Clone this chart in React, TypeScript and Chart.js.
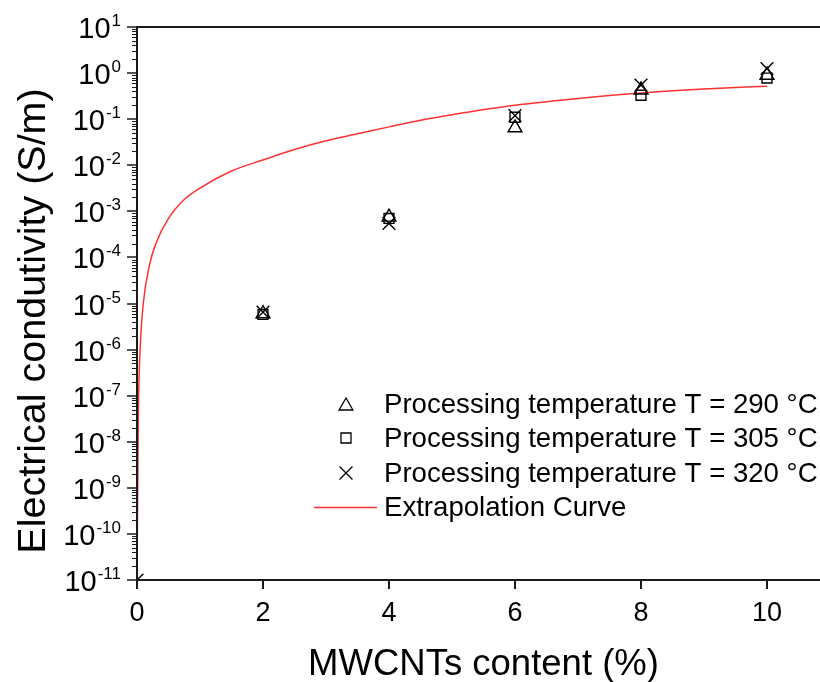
import React, { useEffect, useRef } from 'react';
import { Chart, registerables } from 'chart.js';

Chart.register(...registerables);

// ---- data ----
const contentPct = [0, 2, 4, 6, 8, 10];
const sigma290: (number | null)[] = [null, 6.0e-6, 7.5e-4, 0.065, 0.43, 0.9];
const sigma305: (number | null)[] = [null, 5.8e-6, 7.0e-4, 0.11, 0.33, 0.78];
const sigma320: (number | null)[] = [1e-11, 6.5e-6, 5.5e-4, 0.12, 0.55, 1.25];

const curveX = [0, 0.02, 0.05, 0.1, 0.2, 0.3, 0.5, 0.75, 1, 1.5, 2, 2.5, 3, 3.5, 4, 4.5, 5, 6, 7, 8, 9, 10];
const curveY = [1e-11, 3e-8, 1e-6, 1e-5, 7e-5, 2e-4, 7e-4, 1.8e-3, 3.2e-3, 7.5e-3, 0.013, 0.022, 0.034, 0.048, 0.068, 0.095, 0.125, 0.2, 0.28, 0.37, 0.45, 0.52];

const xTickValues = [0, 2, 4, 6, 8, 10];
const yTickExponents = [-11, -10, -9, -8, -7, -6, -5, -4, -3, -2, -1, 0, 1];

const legendLabels = [
  'Processing temperature T = 290 °C',
  'Processing temperature T = 305 °C',
  'Processing temperature T = 320 °C',
  'Extrapolation Curve',
];
const xTitle = 'MWCNTs content (%)';
const yTitle = 'Electrical condutivity (S/m)';

const FONT = '"Liberation Sans", Arial, Helvetica, sans-serif';
const RED = 'rgb(255,50,50)';
const CANVAS_W = 900;
const CANVAS_H = 682;

function drawMarker(ctx: CanvasRenderingContext2D, style: string, x: number, y: number) {
  ctx.save();
  ctx.strokeStyle = '#000';
  ctx.lineWidth = 1.3;
  ctx.beginPath();
  if (style === 'triangle') {
    const r = 8;
    for (let i = 0; i < 3; i++) {
      const a = (i * 2 * Math.PI) / 3;
      const px = x + Math.sin(a) * r;
      const py = y + 2 - Math.cos(a) * r;
      if (i === 0) ctx.moveTo(px, py);
      else ctx.lineTo(px, py);
    }
    ctx.closePath();
  } else if (style === 'rect') {
    const s = 5;
    ctx.rect(x - s, y - s, 2 * s, 2 * s);
  } else {
    const s = 6.5;
    ctx.moveTo(x - s, y - s);
    ctx.lineTo(x + s, y + s);
    ctx.moveTo(x + s, y - s);
    ctx.lineTo(x - s, y + s);
  }
  ctx.stroke();
  ctx.restore();
}

const decorPlugin = {
  id: 'decor',
  afterDraw(chart: any) {
    const ctx: CanvasRenderingContext2D = chart.ctx;
    const { left, right, top, bottom } = chart.chartArea;
    const xs = chart.scales.x;
    const ys = chart.scales.y;
    ctx.save();

    // frame
    ctx.strokeStyle = '#1a1a1a';
    ctx.lineWidth = 2;
    ctx.beginPath();
    ctx.moveTo(left, top);
    ctx.lineTo(left, bottom);
    ctx.lineTo(right, bottom);
    ctx.lineTo(right, top);
    ctx.closePath();
    ctx.stroke();

    const seg = (x1: number, y1: number, x2: number, y2: number) => {
      ctx.beginPath();
      ctx.moveTo(x1, y1);
      ctx.lineTo(x2, y2);
      ctx.stroke();
    };

    // y ticks
    ctx.lineWidth = 1.5;
    yTickExponents.forEach((e) => {
      const y = Math.round(ys.getPixelForValue(Math.pow(10, e)));
      seg(left - 10, y, left, y);
      if (e < yTickExponents[yTickExponents.length - 1]) {
        for (let m = 2; m <= 9; m++) {
          const ym = Math.round(ys.getPixelForValue(m * Math.pow(10, e))) + 0.5;
          ctx.lineWidth = 1;
          seg(left - 5, ym, left, ym);
          ctx.lineWidth = 1.5;
        }
      }
    });

    // x ticks
    ctx.lineWidth = 2;
    xTickValues.forEach((v) => {
      const x = Math.round(xs.getPixelForValue(v));
      seg(x, bottom, x, bottom + 9);
    });

    // y tick labels 10^n
    ctx.fillStyle = '#000';
    ctx.textAlign = 'right';
    ctx.textBaseline = 'alphabetic';
    yTickExponents.forEach((e) => {
      const y = ys.getPixelForValue(Math.pow(10, e));
      const expStr = String(e);
      ctx.font = `17px ${FONT}`;
      const ew = ctx.measureText(expStr).width;
      const xr = 121;
      ctx.fillText(expStr, xr, y - 1);
      ctx.font = `29px ${FONT}`;
      ctx.fillText('10', xr - ew - 1, y + 11);
    });

    // x tick labels
    ctx.textAlign = 'center';
    ctx.font = `27px ${FONT}`;
    xTickValues.forEach((v) => {
      const x = xs.getPixelForValue(v);
      ctx.fillText(String(v), x, 621);
    });

    // axis titles
    ctx.font = `36.5px ${FONT}`;
    ctx.fillText(xTitle, (left + right) / 2, 675);
    ctx.save();
    ctx.translate(45, 321);
    ctx.rotate(-Math.PI / 2);
    ctx.font = `39.5px ${FONT}`;
    ctx.fillText(yTitle, 0, 0);
    ctx.restore();

    // legend
    const rows = [404, 438, 473, 507];
    const styles = ['triangle', 'rect', 'crossRot'];
    ctx.font = `27.6px ${FONT}`;
    ctx.textAlign = 'left';
    ctx.textBaseline = 'middle';
    legendLabels.forEach((lab, i) => {
      const cy = rows[i];
      if (i < 3) {
        drawMarker(ctx, styles[i], 346, cy);
      } else {
        ctx.strokeStyle = RED;
        ctx.lineWidth = 1.5;
        seg(314, cy + 0.5, 377, cy + 0.5);
      }
      ctx.fillStyle = '#000';
      ctx.fillText(lab, 384, cy + 1);
    });

    ctx.restore();
  },
};

export default function App() {
  const ref = useRef<HTMLCanvasElement | null>(null);

  useEffect(() => {
    if (!ref.current) return;
    const mk = (ys: (number | null)[]) =>
      contentPct.map((x, i) => ({ x, y: ys[i] as any }));
    const curve = curveX.map((x, i) => ({ x, y: curveY[i] }));
    const chart = new Chart(ref.current, {
      type: 'scatter',
      data: {
        datasets: [
          {
            label: 'curve',
            data: curve,
            showLine: true,
            borderColor: RED,
            borderWidth: 1.5,
            pointRadius: 0,
            cubicInterpolationMode: 'monotone',
            order: 5,
          } as any,
          {
            label: legendLabels[0],
            data: mk(sigma290),
            pointStyle: 'triangle',
            pointRadius: 8,
            borderColor: '#000',
            backgroundColor: 'rgba(0,0,0,0)',
            borderWidth: 1.4,
          },
          {
            label: legendLabels[1],
            data: mk(sigma305),
            pointStyle: 'rect',
            pointRadius: 7,
            borderColor: '#000',
            backgroundColor: 'rgba(0,0,0,0)',
            borderWidth: 1.4,
          },
          {
            label: legendLabels[2],
            data: mk(sigma320),
            pointStyle: 'crossRot',
            pointRadius: 9,
            borderColor: '#000',
            backgroundColor: 'rgba(0,0,0,0)',
            borderWidth: 1.4,
          },
        ],
      },
      options: {
        responsive: false,
        animation: false,
        devicePixelRatio: 1,
        layout: { padding: { left: 137, top: 27, right: CANVAS_W - 830, bottom: CANVAS_H - 580 } },
        plugins: { legend: { display: false }, tooltip: { enabled: false } },
        events: [],
        scales: {
          x: { type: 'linear', min: 0, max: 11, display: false },
          y: { type: 'logarithmic', min: 1e-11, max: 10, display: false },
        },
      },
      plugins: [decorPlugin],
    });
    return () => chart.destroy();
  }, []);

  return (
    <div
      style={{
        position: 'fixed',
        left: 0,
        top: 0,
        width: 820,
        height: 682,
        overflow: 'hidden',
        background: '#fff',
      }}
    >
      <canvas ref={ref} width={CANVAS_W} height={CANVAS_H} style={{ display: 'block' }} />
    </div>
  );
}
